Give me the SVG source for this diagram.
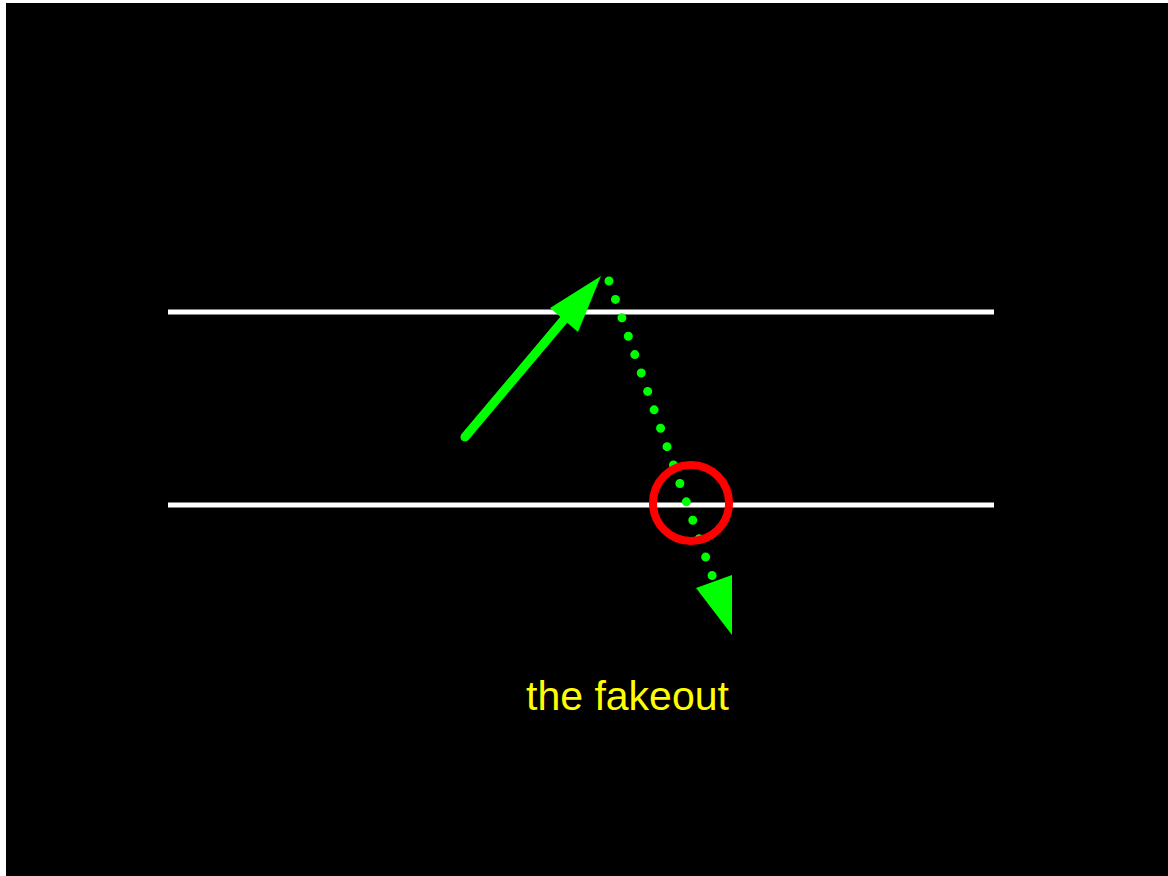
<svg xmlns="http://www.w3.org/2000/svg" width="1168" height="876" viewBox="0 0 1168 876">
  <style>
    .rail { stroke: #ffffff; stroke-width: 5; fill: none; }
    .move { stroke: #00ff00; fill: none; stroke-linecap: round; }
    .head { fill: #00ff00; stroke: none; }
    .label { font-family: "Liberation Sans", Arial, sans-serif; font-size: 41px; fill: #ffff00; }
  </style>
  <rect x="0" y="0" width="1168" height="876" fill="#ffffff"/>
  <rect x="6" y="3" width="1162" height="873" fill="#000000"/>
  <g id="levels">
    <line class="rail" x1="168" y1="312" x2="994" y2="312"/>
    <line class="rail" x1="168" y1="505" x2="994" y2="505"/>
  </g>
  <g id="connectors">
    <line class="move" x1="465" y1="437" x2="572" y2="310" stroke-width="9"/>
    <polygon class="head" points="601,276 550,308 578,332"/>
    <line class="move" x1="609" y1="281" x2="713" y2="578" stroke-width="9" stroke-dasharray="0 19.5"/>
    <polygon class="head" points="732,635 696,588 732,575"/>
  </g>
  <g id="highlight">
    <circle cx="691" cy="503" r="38" fill="none" stroke="#ff0000" stroke-width="8"/>
  </g>
  <g id="caption">
    <text class="label" x="526" y="710">the fakeout</text>
  </g>
</svg>
